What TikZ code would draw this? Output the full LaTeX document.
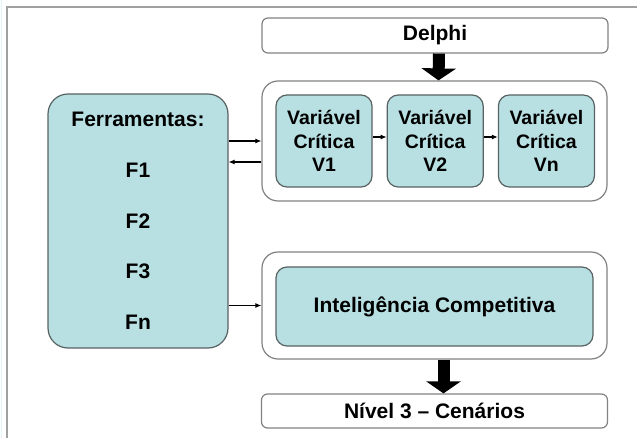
\documentclass[tikz,border=0pt]{standalone}
\usepackage{fontspec}
\setmainfont{Liberation Sans}
\usetikzlibrary{positioning,arrows.meta}

\definecolor{boxfill}{RGB}{184,224,227}
\definecolor{boxline}{RGB}{88,98,98}
\definecolor{frameline}{RGB}{130,130,130}
\definecolor{edgeline}{RGB}{160,160,160}

\tikzset{
	title box/.style={draw=frameline, line width=1.2pt, fill=white, rounded corners=6pt,
		inner sep=0pt, minimum width=346pt, minimum height=35pt,
		font=\fontsize{21}{25}\selectfont\bfseries},
	group box/.style={draw=frameline, line width=1.2pt, fill=white, rounded corners=16pt,
		inner sep=0pt, minimum width=345pt},
	tool box/.style={draw=boxline, line width=1.2pt, fill=boxfill, rounded corners=20pt,
		inner sep=0pt, minimum width=180pt, minimum height=254pt, align=center,
		font=\fontsize{21}{50.75}\selectfont\bfseries},
	var box/.style={draw=boxline, line width=1.2pt, fill=boxfill, rounded corners=11pt,
		inner sep=0pt, minimum width=96pt, minimum height=92pt, align=center,
		font=\fontsize{19.5}{23.5}\selectfont\bfseries},
	thin arrow/.style={-{Latex[length=6pt,width=5pt]}, line width=1.1pt},
	fat arrow/.style={-{Triangle[length=12pt,width=34pt]}, line width=12pt},
}

\begin{document}
\begin{tikzpicture}[x=1pt, y=-1pt]
	\useasboundingbox (0,0) rectangle (637,438);
	% page frame
	\draw[cyan!12, line width=1.5pt] (1.5,0) -- (1.5,438);
	\draw[edgeline, line width=1.5pt] (7,438) -- (7,7) -- (637,7);

	\node[title box] (delphi) at (435,35.5) {Delphi};
	\node[group box, minimum height=120pt] (vgroup) at (434.5,141) {};
	\node[var box] (v1) at (324,141) {Variável\\Crítica\\V1};
	\node[var box, right=14pt of v1] (v2) {Variável\\Crítica\\V2};
	\node[var box, right=14pt of v2] (vn) {Variável\\Crítica\\Vn};

	\node[tool box] (tools) at (138,221) {Ferramentas:\\F1\\F2\\F3\\Fn};

	\node[group box, minimum height=107pt] (igroup) at (434.5,305.5) {};
	\node[var box, minimum width=317pt, minimum height=79pt,
		font=\fontsize{21}{25}\selectfont\bfseries] (ic) at (434.5,306.5) {Inteligência Competitiva};
	\node[title box, minimum height=34pt] (nivel) at (434.5,411) {Nível 3 -- Cenários};

	\draw[fat arrow] ([xshift=4pt]delphi.south) -- ([xshift=4pt]vgroup.north);
	\draw[fat arrow] ([xshift=9pt]igroup.south) -- ([xshift=9pt]nivel.north);

	\draw[thin arrow] (tools.east |- vgroup.west) -- (vgroup.west);
	\draw[thin arrow] ([yshift=-21pt]vgroup.west) -- ([yshift=-21pt]vgroup.west -| tools.east);
	\draw[thin arrow] (tools.east |- igroup.west) -- (igroup.west);
	\draw[thin arrow] ([yshift=4pt]v1.east) -- ([yshift=4pt]v2.west);
	\draw[thin arrow] ([yshift=4pt]v2.east) -- ([yshift=4pt]vn.west);
\end{tikzpicture}
\end{document}
